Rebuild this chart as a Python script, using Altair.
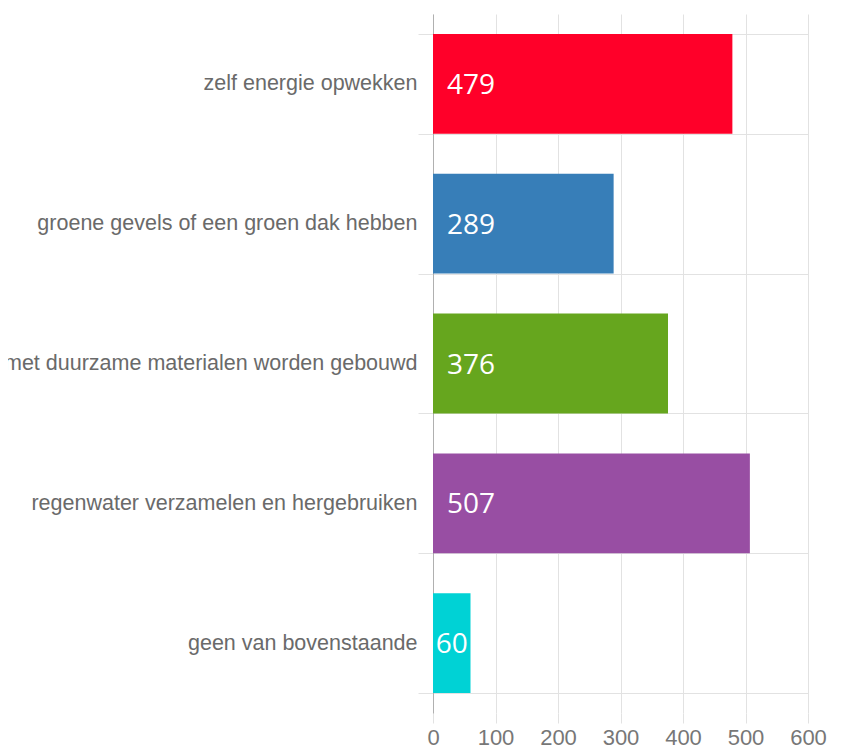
import altair as alt
import pandas as pd

categories = [
    "zelf energie opwekken",
    "groene gevels of een groen dak hebben",
    "met duurzame materialen worden gebouwd",
    "regenwater verzamelen en hergebruiken",
    "geen van bovenstaande",
]
values = [479, 289, 376, 507, 60]
colors = ["#ff0029", "#377eb8", "#66a61e", "#984ea3", "#00d2d5"]
x_ticks = [0, 100, 200, 300, 400, 500, 600]

df = pd.DataFrame({"cat": categories, "value": values})

y_enc = alt.Y(
    "cat:N",
    sort=categories,
    title=None,
    scale=alt.Scale(paddingInner=0.286, paddingOuter=0.143),
    axis=alt.Axis(
        tickBand="extent",
        grid=True,
        gridColor="#e2e2e2",
        tickColor="#e2e2e2",
        tickSize=15,
        domainColor="#b0b0b0",
        labelFont="Liberation Sans",
        labelFontSize=21.5,
        labelColor="#6a6a6a",
        labelPadding=1,
        labelLimit=600,
    ),
)

bars = alt.Chart(df).mark_bar(opacity=1).encode(
    x=alt.X(
        "value:Q",
        title=None,
        scale=alt.Scale(domain=[0, 600], nice=False),
        axis=alt.Axis(
            values=x_ticks,
            grid=True,
            gridColor="#e2e2e2",
            domain=False,
            tickColor="#e2e2e2",
            tickSize=10,
            labelFlush=False,
            labelOverlap=False,
            labelFont="Liberation Sans",
            labelFontSize=22,
            labelColor="#777777",
            labelPadding=4,
        ),
    ),
    y=y_enc,
    color=alt.Color("cat:N", scale=alt.Scale(domain=categories, range=colors), legend=None),
)

labels_left = alt.Chart(df).transform_filter("datum.value >= 100").mark_text(
    align="left", baseline="middle", dx=14, dy=2, font="Open Sans", fontSize=28, color="white"
).encode(
    x=alt.datum(0),
    y=alt.Y("cat:N", sort=categories),
    text="value:Q",
)

labels_center = alt.Chart(df).transform_filter("datum.value < 100").transform_calculate(
    mid="datum.value / 2"
).mark_text(
    align="center", baseline="middle", dy=2, font="Open Sans", fontSize=28, color="white"
).encode(
    x="mid:Q",
    y=alt.Y("cat:N", sort=categories),
    text="value:Q",
)

chart = alt.layer(bars, labels_left, labels_center).properties(
    width=375,
    height=699,
    autosize=alt.AutoSizeParams(type="none"),
    padding={"left": 425, "top": 6, "right": 40, "bottom": 40},
).configure_view(stroke=None)

chart.save("out.html", embed_options={"renderer": "svg", "actions": False})
